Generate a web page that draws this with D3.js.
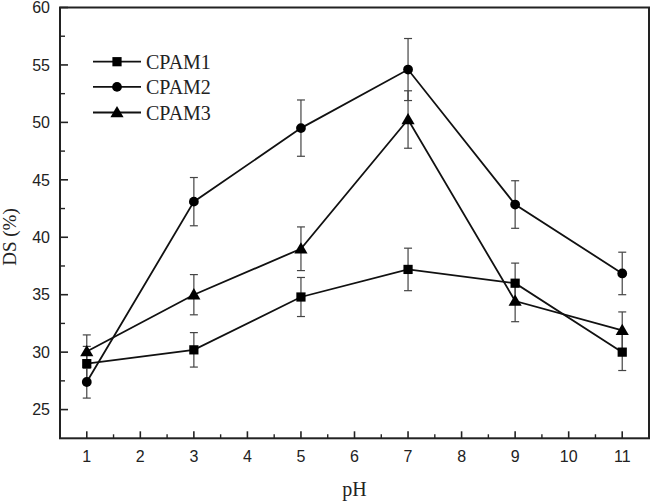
<!DOCTYPE html>
<html><head><meta charset="utf-8">
<script src="https://cdn.jsdelivr.net/npm/d3@7"></script>
<style>body{margin:0;background:#fff}svg{display:block}</style>
</head><body>
<script>
const pH = [1, 3, 5, 7, 9, 11];
const cpam1 = [29.0, 30.2, 34.8, 37.2, 36.0, 30.0];
const cpam1Err = [1.5, 1.5, 1.7, 1.85, 1.75, 1.6];
const cpam2 = [27.4, 43.1, 49.5, 54.6, 42.85, 36.85];
const cpam2Err = [1.4, 2.1, 2.45, 2.7, 2.07, 1.85];
const cpam3 = [30.05, 35.0, 39.0, 50.25, 34.45, 31.9];
const cpam3Err = [1.45, 1.75, 1.9, 2.5, 1.8, 1.6];
const seriesNames = ["CPAM1", "CPAM2", "CPAM3"];
const xTicks = [1,2,3,4,5,6,7,8,9,10,11];
const yTicks = [25,30,35,40,45,50,55,60];

const W = 651, H = 501;
const svg = d3.select("body").append("svg").attr("width", W).attr("height", H);
const x = d3.scaleLinear().domain([0.5, 11.5]).range([60, 649]);
const y = d3.scaleLinear().domain([22.5, 60]).range([438.3, 7.5]);
const L = x.range()[0], R = x.range()[1], T = y.range()[1], B = y.range()[0];

const xMinor = d3.range(1.5, 11.5, 1);
const yMinor = d3.range(27.5, 60, 5);
const g = svg.append("g");
g.selectAll(".xmaj").data(xTicks).enter().append("line")
  .attr("x1", d => x(d)).attr("x2", d => x(d)).attr("y1", B).attr("y2", B - 7)
  .attr("stroke", "#222").attr("stroke-width", 1.6);
g.selectAll(".xmin").data(xMinor).enter().append("line")
  .attr("x1", d => x(d)).attr("x2", d => x(d)).attr("y1", B).attr("y2", B - 4)
  .attr("stroke", "#222").attr("stroke-width", 1.4);
g.selectAll(".ymaj").data(yTicks).enter().append("line")
  .attr("x1", L).attr("x2", L + 8).attr("y1", d => y(d)).attr("y2", d => y(d))
  .attr("stroke", "#222").attr("stroke-width", 1.6);
g.selectAll(".ymin").data(yMinor).enter().append("line")
  .attr("x1", L).attr("x2", L + 5).attr("y1", d => y(d)).attr("y2", d => y(d))
  .attr("stroke", "#222").attr("stroke-width", 1.4);

g.selectAll(".xl").data(xTicks).enter().append("text")
  .attr("x", d => x(d)).attr("y", 462).attr("text-anchor", "middle")
  .attr("font-family", "Liberation Sans, Arial, sans-serif").attr("font-size", 16).attr("fill", "#222")
  .text(d => d);
g.selectAll(".yl").data(yTicks).enter().append("text")
  .attr("x", 50).attr("y", d => y(d)).attr("dy", "0.36em").attr("text-anchor", "end")
  .attr("font-family", "Liberation Sans, Arial, sans-serif").attr("font-size", 16).attr("fill", "#222")
  .text(d => d);

svg.append("rect").attr("x", L).attr("y", T).attr("width", R - L).attr("height", B - T)
  .attr("fill", "none").attr("stroke", "#222").attr("stroke-width", 2);

svg.append("text").attr("x", x(6)).attr("y", 496).attr("text-anchor", "middle")
  .attr("font-family", "Liberation Serif, Times New Roman, serif").attr("font-size", 20).attr("fill", "#222").text("pH");
svg.append("text").attr("transform", "translate(16,237) rotate(-90)").attr("text-anchor", "middle")
  .attr("font-family", "Liberation Serif, Times New Roman, serif").attr("font-size", 19).attr("fill", "#222").text("DS (%)");

const series = [
  {name: seriesNames[0], vals: cpam1, err: cpam1Err, sym: d3.symbolSquare, size: 85},
  {name: seriesNames[1], vals: cpam2, err: cpam2Err, sym: d3.symbolCircle, size: 75},
  {name: seriesNames[2], vals: cpam3, err: cpam3Err, sym: d3.symbolTriangle, size: 75},
];
const line = d3.line().x(d => x(d[0])).y(d => y(d[1]));

series.forEach(s => {
  const eg = svg.append("g").attr("stroke", "#444").attr("stroke-width", 1.2);
  pH.forEach((p, i) => {
    const top = y(s.vals[i] + s.err[i]), bot = y(s.vals[i] - s.err[i]), cx = x(p);
    eg.append("line").attr("x1", cx).attr("x2", cx).attr("y1", top).attr("y2", bot);
    eg.append("line").attr("x1", cx - 4).attr("x2", cx + 4).attr("y1", top).attr("y2", top);
    eg.append("line").attr("x1", cx - 4).attr("x2", cx + 4).attr("y1", bot).attr("y2", bot);
  });
});
series.forEach(s => {
  const pts = pH.map((p, i) => [p, s.vals[i]]);
  svg.append("path").datum(pts).attr("d", line).attr("fill", "none")
    .attr("stroke", "#111").attr("stroke-width", 1.8);
  svg.selectAll(null).data(pts).enter().append("path")
    .attr("d", d3.symbol().type(s.sym).size(s.size))
    .attr("transform", d => `translate(${x(d[0])},${y(d[1]) + (s.sym === d3.symbolTriangle ? 1 : 0)})`)
    .attr("fill", "#000");
});

const legY = [61.7, 86.9, 112.5];
series.forEach((s, i) => {
  const lg = svg.append("g");
  lg.append("line").attr("x1", 93).attr("x2", 141).attr("y1", legY[i]).attr("y2", legY[i])
    .attr("stroke", "#111").attr("stroke-width", 1.8);
  lg.append("path").attr("d", d3.symbol().type(s.sym).size(s.size))
    .attr("transform", `translate(117,${legY[i] + (s.sym === d3.symbolTriangle ? 1 : 0)})`).attr("fill", "#000");
  lg.append("text").attr("x", 146).attr("y", legY[i]).attr("dy", "0.35em")
    .attr("font-family", "Liberation Serif, Times New Roman, serif").attr("font-size", 20).attr("fill", "#222")
    .text(s.name);
});
</script>
</body></html>
